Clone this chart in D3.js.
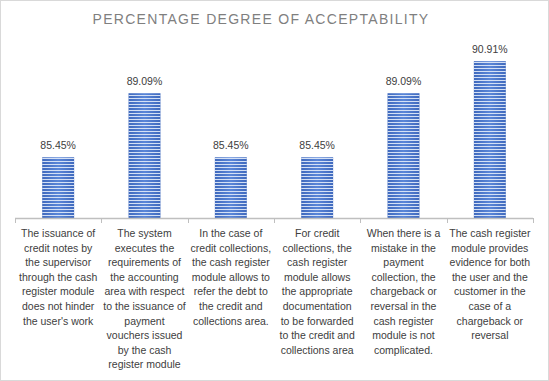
<!DOCTYPE html>
<html><head><meta charset="utf-8">
<script src="https://cdn.jsdelivr.net/npm/d3@7"></script>
<style>body{margin:0;background:#fff}svg{display:block}</style>
</head><body>
<script>
const title = "PERCENTAGE DEGREE OF ACCEPTABILITY";
const categories = [
  "The issuance of\ncredit notes by\nthe supervisor\nthrough the cash\nregister module\ndoes not hinder\nthe user's work",
  "The system\nexecutes the\nrequirements of\nthe accounting\narea with respect\nto the issuance of\npayment\nvouchers issued\nby the cash\nregister module",
  "In the case of\ncredit collections,\nthe cash register\nmodule allows to\nrefer the debt to\nthe credit and\ncollections area.",
  "For credit\ncollections, the\ncash register\nmodule allows\nthe appropriate\ndocumentation\nto be forwarded\nto the credit and\ncollections area",
  "When there is a\nmistake in the\npayment\ncollection, the\nchargeback or\nreversal in the\ncash register\nmodule is not\ncomplicated.",
  "The cash register\nmodule provides\nevidence for both\nthe user and the\ncustomer in the\ncase of a\nchargeback or\nreversal"
];
const values = [85.45, 89.09, 85.45, 85.45, 89.09, 90.91];
const yDomain = [82, 92];

const W = 549, H = 381;
const svg = d3.select("body").append("svg").attr("width", W).attr("height", H);
const defs = svg.append("defs");
const grad = defs.append("linearGradient").attr("id","barGrad").attr("x1","0").attr("x2","1").attr("y1","0").attr("y2","0");
grad.append("stop").attr("offset","0").attr("stop-color","#3f69bd");
grad.append("stop").attr("offset","0.5").attr("stop-color","#5a86d8");
grad.append("stop").attr("offset","1").attr("stop-color","#3f69bd");
const pat = defs.append("pattern").attr("id","stripes").attr("patternUnits","userSpaceOnUse").attr("width",6).attr("height",3);
pat.append("rect").attr("x",0).attr("y",2).attr("width",6).attr("height",1).attr("fill","#d4e0f5");

svg.append("rect").attr("x",0.5).attr("y",0.5).attr("width",W-1).attr("height",H-1).attr("fill","#fff").attr("stroke","#d9d9d9");

svg.append("text").attr("x", 261).attr("y", 24).attr("text-anchor","middle")
  .attr("font-family","Liberation Sans, Arial, sans-serif").attr("font-size",14)
  .attr("letter-spacing","1.3px").attr("fill","#7f7f7f").text(title);

const x = d3.scaleBand().domain(d3.range(categories.length)).range([15, 533]).paddingInner(0.63).paddingOuter(0.315);
const y = d3.scaleLinear().domain(yDomain).range([218, 42]);

const g = svg.append("g");
const bars = g.selectAll("g.bar").data(values).join("g");
bars.append("rect").attr("x",(d,i)=>x(i)).attr("y",d=>y(d)).attr("width",x.bandwidth()).attr("height",d=>y(yDomain[0])-y(d)).attr("fill","url(#barGrad)");
bars.append("rect").attr("x",(d,i)=>x(i)).attr("y",d=>y(d)).attr("width",x.bandwidth()).attr("height",d=>y(yDomain[0])-y(d)).attr("fill","url(#stripes)");
bars.append("text").attr("x",(d,i)=>x(i)+x.bandwidth()/2).attr("y",d=>y(d)-8).attr("text-anchor","middle")
  .attr("font-family","Liberation Sans, Arial, sans-serif").attr("font-size",10.5).attr("fill","#404040")
  .text(d=>d.toFixed(2)+"%");

// axis
const bounds = d3.range(categories.length+1).map(i => 15 + i*(518/categories.length));
g.append("line").attr("x1",15).attr("x2",533).attr("y1",218.5).attr("y2",218.5).attr("stroke","#bfbfbf").attr("stroke-width",1.5);
g.selectAll("line.tick").data(bounds).join("line").attr("class","tick")
  .attr("x1",d=>Math.round(d)+0.5).attr("x2",d=>Math.round(d)+0.5).attr("y1",218).attr("y2",223).attr("stroke","#bfbfbf");

const lab = g.selectAll("text.cat").data(categories).join("text").attr("class","cat")
  .attr("font-family","Liberation Sans, Arial, sans-serif").attr("font-size",10.5).attr("fill","#404040")
  .attr("text-anchor","middle");
lab.each(function(d,i){
  const t = d3.select(this);
  d.split("\n").forEach((line,k)=>{
    t.append("tspan").attr("x", x(i)+x.bandwidth()/2).attr("y", 237 + k*14.6).text(line);
  });
});
</script>
</body></html>
